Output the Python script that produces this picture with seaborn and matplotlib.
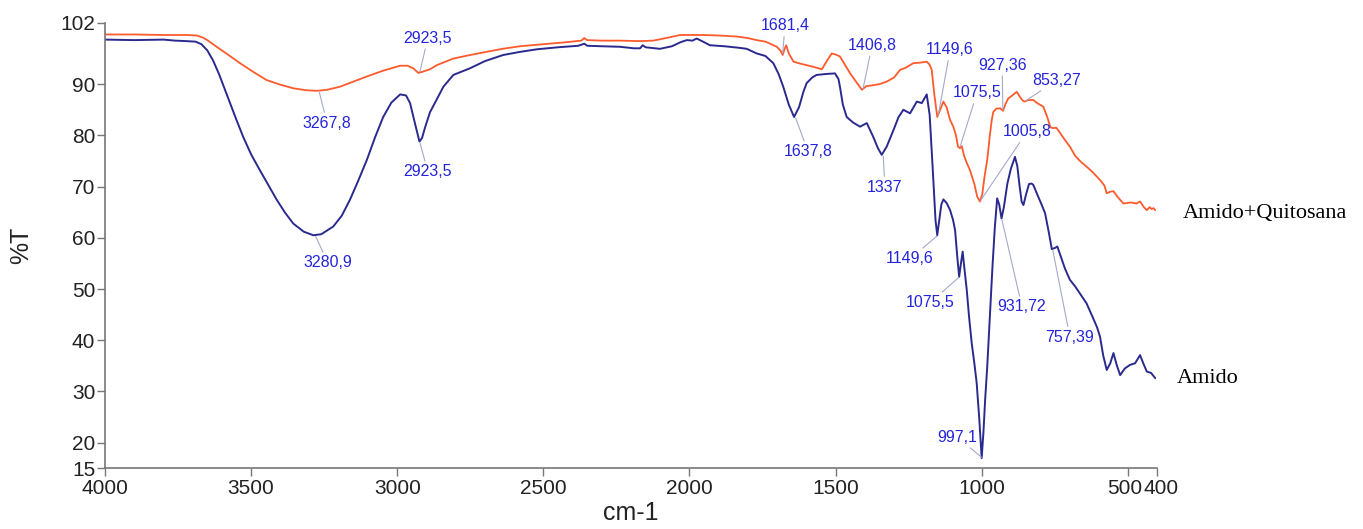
import matplotlib
matplotlib.use("Agg")
import matplotlib.pyplot as plt
import matplotlib.transforms as mtransforms
import seaborn as sns
import pandas as pd

# ---------------- data ----------------
amido_wn = [4000, 3900, 3800, 3760, 3720, 3690, 3670, 3650, 3630, 3610, 3590, 3570, 3550, 3527, 3500,
            3470, 3440, 3412, 3385, 3356, 3320, 3287, 3260, 3219, 3190, 3162, 3133, 3104, 3076, 3048,
            3020, 2990, 2970, 2956, 2940, 2924, 2915, 2905, 2888, 2876, 2860, 2842, 2808, 2751, 2700,
            2637, 2580, 2523, 2450, 2380, 2360, 2350, 2300, 2238, 2190, 2169, 2160, 2150, 2101, 2060,
            2030, 2009, 1990, 1975, 1950, 1930, 1880, 1830, 1804, 1770, 1740, 1713, 1695, 1679, 1660,
            1642, 1625, 1610, 1599, 1580, 1565, 1530, 1502, 1490, 1485, 1475, 1462, 1440, 1416, 1393,
            1371, 1355, 1342, 1325, 1302, 1285, 1268, 1245, 1222, 1205, 1188, 1178, 1168, 1158, 1152,
            1145, 1138, 1131, 1120, 1108, 1098, 1091, 1083, 1077, 1071, 1065, 1060, 1051, 1043, 1034,
            1025, 1017, 1008, 1000, 994, 988, 981, 972, 963, 955, 947, 940, 932, 924, 912,
            900, 886, 878, 870, 863, 857, 848, 838, 829, 823, 810, 795, 783, 770, 760,
            750, 741, 730, 715, 698, 680, 660, 641, 620, 605, 595, 584, 572, 560, 549,
            537, 526, 510, 492, 475, 458, 447, 435, 420, 406]
amido_t = [98.7, 98.6, 98.7, 98.5, 98.4, 98.3, 97.8, 96.6, 94.6, 92.0, 89.0, 86.0, 83.0, 79.7, 76.3,
           73.2, 70.2, 67.4, 65.0, 62.8, 61.2, 60.5, 60.7, 62.2, 64.3, 67.4, 71.2, 75.2, 79.6, 83.6,
           86.4, 88.0, 87.8, 86.3, 82.5, 78.8, 79.5, 81.5, 84.5, 85.8, 87.5, 89.5, 91.8, 93.1, 94.5,
           95.7, 96.3, 96.8, 97.2, 97.5, 97.9, 97.5, 97.4, 97.3, 97.0, 97.0, 97.6, 97.2, 96.9, 97.4,
           98.2, 98.6, 98.5, 98.9, 98.2, 97.6, 97.4, 97.1, 96.9, 96.0, 95.5, 94.1, 92.0, 89.5, 86.0,
           83.6, 85.5, 88.5, 90.2, 91.3, 91.8, 92.0, 92.1, 91.0, 89.5, 86.0, 83.6, 82.5, 81.7, 82.4,
           79.7, 77.5, 76.2, 77.8, 81.0, 83.5, 85.0, 84.3, 86.6, 86.3, 88.0, 84.0, 74.0, 63.5, 60.5,
           63.5, 66.5, 67.5, 66.8, 65.4, 63.5, 61.5, 56.0, 52.4, 55.0, 57.3, 54.5, 49.8, 44.5, 39.4,
           35.5, 31.6, 24.5, 17.0, 22.0, 28.5, 34.8, 44.5, 54.4, 62.0, 67.7, 66.5, 63.8, 66.0, 70.6,
           73.5, 75.8, 74.0, 70.0, 67.0, 66.4, 68.5, 70.5, 70.6, 70.3, 68.5, 66.5, 64.8, 61.0, 57.8,
           58.0, 58.3, 56.5, 54.0, 51.8, 50.5, 48.8, 47.2, 44.5, 42.5, 40.7, 37.0, 34.2, 35.5, 37.5,
           35.0, 33.2, 34.5, 35.2, 35.5, 37.1, 35.5, 33.9, 33.6, 32.6]

quito_wn = [4000, 3900, 3800, 3720, 3686, 3665, 3650, 3618, 3580, 3538, 3490, 3447, 3400, 3356, 3310,
            3276, 3240, 3196, 3150, 3104, 3050, 2990, 2965, 2945, 2928, 2915, 2888, 2865, 2808, 2750,
            2694, 2640, 2580, 2500, 2420, 2370, 2360, 2350, 2300, 2238, 2170, 2124, 2080, 2032, 1990,
            1952, 1900, 1838, 1800, 1770, 1740, 1720, 1701, 1688, 1681, 1675, 1669, 1660, 1644, 1620,
            1599, 1570, 1547, 1530, 1513, 1500, 1485, 1470, 1450, 1430, 1410, 1395, 1371, 1350, 1325,
            1300, 1279, 1260, 1234, 1210, 1188, 1178, 1171, 1162, 1152, 1142, 1131, 1120, 1108, 1097,
            1088, 1081, 1074, 1068, 1060, 1050, 1040, 1025, 1015, 1006, 998, 990, 981, 972, 965,
            960, 950, 937, 927, 918, 909, 895, 880, 870, 860, 853, 840, 823, 810, 789,
            775, 765, 755, 745, 738, 720, 698, 680, 660, 641, 620, 595, 580, 572, 560,
            549, 535, 515, 490, 470, 458, 445, 435, 425, 418, 412, 406]
quito_t = [99.7, 99.7, 99.6, 99.6, 99.5, 99.1, 98.6, 97.3, 95.8, 94.1, 92.3, 90.8, 89.9, 89.2, 88.8,
           88.7, 88.9, 89.5, 90.5, 91.5, 92.6, 93.6, 93.6, 93.1, 92.2, 92.4, 92.9, 93.7, 95.0, 95.7,
           96.3, 96.9, 97.4, 97.8, 98.2, 98.5, 99.0, 98.6, 98.5, 98.5, 98.4, 98.5, 99.0, 99.6, 99.6,
           99.6, 99.5, 99.3, 99.0, 98.6, 98.3, 97.8, 97.3, 96.5, 95.7, 96.8, 97.6, 96.0, 94.4, 94.0,
           93.7, 93.3, 92.9, 94.5, 96.0, 95.8, 95.4, 94.0, 92.1, 90.5, 88.9, 89.6, 89.8, 90.0, 90.5,
           91.3, 92.8, 93.2, 94.1, 94.2, 94.4, 93.8, 92.8, 88.0, 83.6, 85.0, 86.6, 85.5, 83.0, 81.7,
           80.0, 77.8, 77.5, 77.9, 76.0, 74.5, 73.2, 70.5, 68.0, 67.1, 68.5, 72.0, 75.2, 80.0, 83.2,
           84.6, 85.2, 85.3, 84.8, 86.2, 87.2, 87.8, 88.5, 87.6, 86.8, 86.6, 86.9, 86.9, 86.3, 85.6,
           83.5, 81.6, 81.4, 81.5, 81.0, 79.5, 77.8, 76.0, 74.8, 73.9, 72.8, 71.3, 70.2, 68.7, 69.0,
           69.1, 68.0, 66.7, 66.9, 66.7, 67.1, 66.0, 65.4, 66.0, 65.6, 65.8, 65.4]

series_names = ["Amido", "Amido+Quitosana"]

peak_labels = ["3267,8", "3280,9", "2923,5", "2923,5", "1681,4", "1406,8", "1149,6", "927,36",
               "853,27", "1075,5", "1005,8", "1637,8", "1337", "1149,6", "1075,5", "931,72",
               "757,39", "997,1"]
peak_wn = [3267.8, 3280.9, 2923.5, 2923.5, 1681.4, 1406.8, 1149.6, 927.36,
           853.27, 1075.5, 1005.8, 1637.8, 1337, 1149.6, 1075.5, 931.72, 757.39, 997.1]
peak_t = [88.7, 60.5, 92.2, 78.8, 95.7, 88.9, 83.6, 84.8,
          86.6, 77.5, 67.1, 83.6, 76.2, 60.5, 52.4, 63.8, 57.8, 17.0]

x_ticks = [4000, 3500, 3000, 2500, 2000, 1500, 1000, 500, 400]
y_ticks = [15, 20, 30, 40, 50, 60, 70, 80, 90, 102]

# ---------------- layout / style ----------------
label_text_pos = [(3240, 82.4), (3237, 55.1), (2895, 99.0), (2895, 72.9), (1673, 101.4),
                  (1375, 97.6), (1108, 96.7), (930, 93.7), (742, 90.8), (1016, 88.3),
                  (845, 80.7), (1594, 76.8), (1331, 69.9), (1245, 55.9), (1177, 47.3),
                  (862, 46.5), (698, 40.6), (1084, 21.1)]

sns.set_style("ticks")
plt.rcParams["font.family"] = ["Liberation Sans", "DejaVu Sans"]

fig = plt.figure(figsize=(13.63, 5.29), dpi=100)
ax = fig.add_axes([105 / 1363, (529 - 468.3) / 529, 1052 / 1363, 445.6 / 529])

df_a = pd.DataFrame({"wn": amido_wn, "t": amido_t})
df_q = pd.DataFrame({"wn": quito_wn, "t": quito_t})
sns.lineplot(data=df_q, x="wn", y="t", sort=False, color="#FF5A2C", lw=1.3, ax=ax)
sns.lineplot(data=df_a, x="wn", y="t", sort=False, color="#2A2A8E", lw=1.4, ax=ax)

ax.set_xlim(4000, 400)
ax.set_ylim(15, 102)
ax.set_xticks(x_ticks)
ax.set_yticks(y_ticks)
ax.set_xticklabels([str(v) for v in x_ticks])
ax.set_yticklabels([str(v) for v in y_ticks])
ax.tick_params(axis="both", labelsize=15, colors="#777777", labelcolor="#222222",
               length=6, width=1.0, direction="out")
ax.tick_params(axis="x", pad=2)
ax.tick_params(axis="y", pad=1)
for s in ["top", "right"]:
    ax.spines[s].set_visible(False)
for s in ["left", "bottom"]:
    ax.spines[s].set_color("#777777")
    ax.spines[s].set_linewidth(1.2)

# nudge the crowded "500" / "400" labels apart so they sit side by side
xlabels = ax.get_xticklabels()
xlabels[-2].set_transform(xlabels[-2].get_transform() +
                          mtransforms.ScaledTranslation(-3.5 / 100, 0, fig.dpi_scale_trans))
xlabels[-1].set_transform(xlabels[-1].get_transform() +
                          mtransforms.ScaledTranslation(4.5 / 100, 0, fig.dpi_scale_trans))

ax.set_xlabel("cm-1", fontsize=18, color="#222222", labelpad=2)
ax.set_ylabel("%T", fontsize=18, color="#222222")
ax.yaxis.set_label_coords(-0.068, 0.5)

for lab, px, py, (tx, ty) in zip(peak_labels, peak_wn, peak_t, label_text_pos):
    ax.annotate(lab, xy=(px, py), xytext=(tx, ty), ha="center", va="center",
                fontsize=11.5, color="#2424DC", annotation_clip=False,
                arrowprops=dict(arrowstyle="-", color="#A4A9CC", lw=0.8,
                                shrinkA=0, shrinkB=1))

ax.text(311, 64.8, series_names[1], ha="left", va="center", fontsize=16,
        family="Liberation Serif", color="black", clip_on=False)
ax.text(331, 32.6, series_names[0], ha="left", va="center", fontsize=16,
        family="Liberation Serif", color="black", clip_on=False)

fig.savefig("out.png", dpi=100)
